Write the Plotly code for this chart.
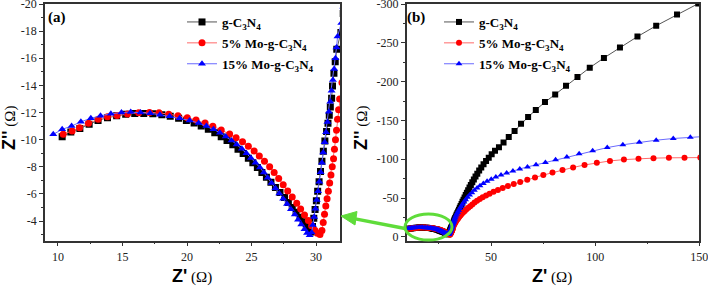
import plotly.graph_objects as go

# ---------------- data (Z' in ohm, Z'' in ohm; Z'' negative) ----------------
series_names = ["g-C<sub>3</sub>N<sub>4</sub>",
                "5% Mo-g-C<sub>3</sub>N<sub>4</sub>",
                "15% Mo-g-C<sub>3</sub>N<sub>4</sub>"]

g_re = [10.33, 11.0, 11.7, 12.42, 13.11, 13.84, 14.55, 15.25, 15.95, 16.65, 17.35, 18.05, 18.7, 19.35,
        19.95, 20.55, 21.1, 21.65, 22.15, 22.65, 23.1, 23.55, 23.95, 24.35, 24.75, 25.1, 25.45, 25.8,
        26.15, 26.5, 26.85, 27.2, 27.55, 27.85, 28.15, 28.45, 28.75, 29.0, 29.25, 29.45, 29.6,
        29.72, 29.82, 29.92, 30.02, 30.12, 30.23, 30.34, 30.45, 30.56, 30.68, 30.81, 30.92, 31.02,
        31.1, 31.2, 31.27, 31.38, 31.48, 31.6,
        31.92, 32.1, 32.3, 32.55, 32.8, 33.1, 33.45, 33.8, 34.2, 34.6, 35.0, 35.4, 35.85, 36.3, 36.8,
        37.3, 37.85, 38.4, 39.0, 39.65, 40.3, 41.0, 41.75, 42.55, 43.4, 44.3, 45.3, 46.4, 47.6, 48.9,
        50.3, 51.9, 53.8, 56.0, 58.5, 61.3, 64.4, 67.8, 71.5, 75.9, 80.8, 86.0, 91.5, 97.4, 104.2,
        111.9, 120.3, 129.3, 139.3, 149.5, 159.8]
g_im = [-10.21, -10.56, -10.83, -11.13, -11.42, -11.62, -11.77, -11.87, -11.92, -11.93, -11.9, -11.83,
        -11.72, -11.58, -11.41, -11.22, -11.0, -10.76, -10.5, -10.22, -9.93, -9.62, -9.3, -8.97,
        -8.63, -8.29, -7.94, -7.58, -7.22, -6.85, -6.48, -6.11, -5.74, -5.37, -5.0, -4.64, -4.28,
        -3.94, -3.62, -3.35, -3.2,
        -3.6, -4.2, -4.85, -5.5, -6.2, -6.9, -7.65, -8.4, -9.15, -9.9, -10.6, -11.2, -11.8,
        -12.4, -13.05, -13.95, -14.9, -15.74, -16.66,
        -17.9, -19.3, -20.9, -22.6, -24.4, -26.3, -28.3, -30.4, -32.6, -34.9, -37.3, -39.8, -42.4,
        -45.1, -47.9, -50.8, -53.8, -56.9, -60.1, -63.4, -66.8, -70.3, -73.9, -77.6, -81.4, -85.3,
        -89.3, -93.4, -97.6, -101.9, -106.3, -110.8, -115.4, -121.5, -128.5, -136.5, -145.6, -154.5,
        -163.5, -173.6, -183.5, -194.5, -206.0, -218.0, -230.5, -244.0, -258.0, -272.0, -286.5,
        -300.5, -314.0]

mo5_re = [10.41, 11.1, 11.68, 12.37, 13.12, 13.84, 14.58, 15.39, 16.26, 17.09, 17.83, 18.58, 19.3,
          20.02, 20.7, 21.4, 22.0, 22.65, 23.3, 23.8, 24.3, 24.75, 25.2, 25.6, 26.0, 26.4, 26.75,
          27.1, 27.45, 27.8, 28.15, 28.5, 28.8, 29.1, 29.4, 29.65, 29.9, 30.1, 30.3,
          30.45, 30.55, 30.65, 30.75, 30.85, 30.95, 31.05, 31.15, 31.25, 31.35, 31.42, 31.5, 31.58,
          31.66, 31.74, 31.82,
          32.0, 32.25, 32.5, 32.8, 33.15, 33.5, 33.9, 34.35, 34.85, 35.4, 36.0, 36.7, 37.4, 38.2,
          39.1, 40.0, 41.0, 42.1, 43.3, 44.6, 46.0, 47.6, 49.3, 51.2, 53.3, 55.6, 58.1, 60.9, 64.0,
          67.4, 71.1, 75.1, 79.5, 84.3, 89.4, 94.9, 100.8, 107.1, 113.8, 120.8, 128.0, 135.4, 142.9,
          150.5]
mo5_im = [-10.39, -10.63, -10.88, -11.2, -11.5, -11.69, -11.78, -11.89, -11.98, -12.0, -11.98, -11.88,
          -11.76, -11.62, -11.45, -11.22, -10.98, -10.72, -10.42, -10.14, -9.84, -9.52, -9.17, -8.8,
          -8.41, -8.0, -7.58, -7.14, -6.68, -6.22, -5.77, -5.32, -4.88, -4.45, -4.03, -3.65, -3.32,
          -3.1, -3.0,
          -3.3, -3.9, -4.5, -5.1, -5.65, -6.2, -6.8, -7.4, -8.0, -8.6, -9.3, -10.0, -10.7, -11.5,
          -12.2, -13.0,
          -14.2, -15.5, -16.8, -18.2, -19.7, -21.2, -22.8, -24.4, -26.1, -27.8, -29.6, -31.5, -33.4,
          -35.4, -37.4, -39.5, -41.8, -44.1, -46.4, -48.7, -51.0, -53.3, -55.6, -58.0, -60.4, -62.9,
          -65.4, -68.0, -70.7, -73.5, -76.5, -79.6, -82.8, -86.0, -89.4, -92.6, -95.5, -97.8, -99.5,
          -100.7, -101.4, -101.8, -102.0, -102.1]

mo15_re = [9.64, 10.33, 11.06, 11.78, 12.55, 13.3, 14.1, 14.92, 15.64, 16.4, 17.15, 17.9, 18.65,
           19.43, 20.2, 20.9, 21.5, 22.05, 22.55, 23.0, 23.45, 23.85, 24.25, 24.6, 24.95, 25.3, 25.65,
           25.95, 26.25, 26.55, 26.85, 27.15, 27.45, 27.75, 28.05, 28.35, 28.6, 28.85, 29.1, 29.3,
           29.5,
           29.65, 29.75, 29.85, 29.95, 30.05, 30.15, 30.25, 30.35, 30.45, 30.55, 30.66, 30.77, 30.88,
           30.99, 31.1, 31.2, 31.3, 31.4, 31.5, 31.58, 31.66,
           31.95, 32.1, 32.3, 32.5, 32.75, 33.1, 33.5, 33.95, 34.45, 35.0, 35.6, 36.3, 37.0, 37.8,
           38.7, 39.7, 40.8, 42.0, 43.3, 44.7, 46.3, 48.1, 50.1, 52.3, 54.8, 57.5, 60.5, 63.8, 67.5,
           71.6, 76.1, 81.0, 86.4, 92.3, 98.8, 105.8, 113.3, 121.2, 129.3, 137.5, 145.7, 153.9]
mo15_im = [-10.39, -10.76, -11.0, -11.32, -11.57, -11.76, -11.9, -12.0, -12.03, -12.0, -11.94, -11.84,
           -11.72, -11.58, -11.42, -11.22, -11.0, -10.76, -10.5, -10.23, -9.94, -9.64, -9.32, -8.99,
           -8.65, -8.3, -7.94, -7.57, -7.19, -6.81, -6.42, -6.03, -5.64, -5.25, -4.86, -4.48, -4.1,
           -3.74, -3.4, -3.12, -2.95,
           -3.15, -3.7, -4.3, -4.9, -5.55, -6.2, -6.9, -7.6, -8.3, -9.05, -9.8, -10.55, -11.3,
           -12.05, -12.8, -13.6, -14.4, -15.2, -16.0, -16.8, -17.6,
           -18.6, -19.8, -21.2, -22.8, -24.6, -26.9, -29.0, -31.3, -33.8, -36.4, -39.1, -42.0, -44.9,
           -47.9, -50.9, -53.9, -56.9, -59.9, -62.9, -65.8, -68.7, -71.5, -74.3, -77.0, -79.7, -82.3,
           -84.9, -87.5, -90.1, -92.8, -95.8, -99.2, -103.0, -107.0, -111.0, -115.0, -118.6, -121.8,
           -124.5, -126.7, -128.3, -129.5]

# tick labels
a_xticks = [10, 15, 20, 25, 30]
a_yticks = [-20, -18, -16, -14, -12, -10, -8, -6, -4]
b_xticks = [50, 100, 150]
b_yticks = [-300, -250, -200, -150, -100, -50, 0]

# ---------------- figure ----------------
W, H = 708, 286
def px(xp):
    return xp / W
def py(yp):
    return 1 - yp / H

colors = ["#000000", "#ff0000", "#0000ff"]
line_colors = ["#555555", "#ff6a6a", "#6a6aff"]
symbols = ["square", "circle", "triangle-up"]
data = [(g_re, g_im), (mo5_re, mo5_im), (mo15_re, mo15_im)]

fig = go.Figure()
for i, (xs, ys) in enumerate(data):
    fig.add_trace(go.Scatter(x=xs, y=ys, mode="lines+markers", name=series_names[i],
                             xaxis="x", yaxis="y", legend="legend", legendgroup="a%d" % i,
                             marker=dict(symbol=symbols[i], size=7, color=colors[i], line=dict(width=0)),
                             line=dict(color=line_colors[i], width=1)))
for i, (xs, ys) in enumerate(data):
    fig.add_trace(go.Scatter(x=xs, y=ys, mode="lines+markers", name=series_names[i],
                             xaxis="x2", yaxis="y2", legend="legend2", legendgroup="b%d" % i,
                             marker=dict(symbol=symbols[i], size=6, color=colors[i], line=dict(width=0)),
                             line=dict(color=line_colors[i], width=1)))

tickfont = dict(family="Liberation Serif", size=12, color="#222")
axcommon = dict(showline=True, linecolor="#333", linewidth=1.5, mirror=True, ticks="outside",
                ticklen=4, tickwidth=1, tickcolor="#333", showgrid=False, zeroline=False,
                tickfont=tickfont, tickmode="array", automargin=False, ticklabeloverflow="allow")

legfont = dict(family="Liberation Serif", size=13, color="#000", weight="bold")
fig.update_layout(
    width=W, height=H, margin=dict(l=0, r=0, t=0, b=0, autoexpand=False),
    plot_bgcolor="white", paper_bgcolor="white", showlegend=True,
    xaxis=dict(domain=[px(45), px(340)], range=[9.0, 31.85], anchor="y",
               tickvals=a_xticks, ticktext=[str(v) for v in a_xticks],
               minor=dict(ticks="outside", ticklen=2, tick0=12.5, dtick=5, tickcolor="#333"), **axcommon),
    yaxis=dict(domain=[py(240.7), py(4)], range=[-2.55, -20], anchor="x",
               tickvals=a_yticks, ticktext=["-" + str(abs(v)) for v in a_yticks],
               minor=dict(ticks="outside", ticklen=2, tick0=-19, dtick=2, tickcolor="#333"), **axcommon),
    xaxis2=dict(domain=[px(406.7), px(699.3)], range=[9.5, 150], anchor="y2",
                tickvals=b_xticks, ticktext=[str(v) for v in b_xticks],
                minor=dict(ticks="outside", ticklen=2, tick0=25, dtick=50, tickcolor="#333"), **axcommon),
    yaxis2=dict(domain=[py(240.7), py(4)], range=[5, -300], anchor="x2",
                tickvals=b_yticks, ticktext=[("-" + str(abs(v))) if v < 0 else "0" for v in b_yticks],
                minor=dict(ticks="outside", ticklen=2, tick0=-275, dtick=50, tickcolor="#333"), **axcommon),
    legend=dict(x=px(182), y=py(7), xanchor="left", yanchor="top", bgcolor="rgba(0,0,0,0)",
                font=legfont, tracegroupgap=1, itemwidth=30),
    legend2=dict(x=px(439), y=py(7), xanchor="left", yanchor="top", bgcolor="rgba(0,0,0,0)",
                 font=legfont, tracegroupgap=1, itemwidth=30),
)

ann_font_b = dict(family="Liberation Serif", size=15, color="#000")
xt = "<b><span style='font-family:Liberation Sans;font-size:18px'>Z'</span></b> (Ω)"
yt = "<b><span style='font-family:Liberation Sans;font-size:18px'>Z''</span></b> (Ω)"
common = dict(showarrow=False, xref="paper", yref="paper", xanchor="center", yanchor="middle")
annotations = [
    dict(x=px(57), y=py(18), text="<b>(a)</b>", font=dict(family="Liberation Serif", size=15, color="#000"), **common),
    dict(x=px(416), y=py(17), text="<b>(b)</b>", font=dict(family="Liberation Serif", size=15, color="#000"), **common),
    dict(x=px(192), y=py(276), text=xt, font=ann_font_b, **common),
    dict(x=px(552), y=py(276), text=xt, font=ann_font_b, **common),
    dict(x=px(9), y=py(128), text=yt, textangle=-90, font=ann_font_b, **common),
    dict(x=px(361), y=py(128), text=yt, textangle=-90, font=ann_font_b, **common),
]
fig.update_layout(annotations=annotations)

# green highlight ellipse and arrow (decoration, paper coordinates)
green = "#5fdc3a"
fig.add_shape(type="circle", xref="paper", yref="paper", x0=px(405), x1=px(452), y0=py(240), y1=py(214),
              line=dict(color=green, width=3))
fig.add_shape(type="line", xref="paper", yref="paper", x0=px(405), y0=py(228.5), x1=px(354), y1=py(218.6),
              line=dict(color=green, width=3.5))
fig.add_shape(type="path", xref="paper", yref="paper",
              path="M %f,%f L %f,%f L %f,%f Z" % (px(341), py(216), px(357), py(211.5), px(355), py(225)),
              fillcolor=green, line=dict(color=green, width=1))

fig.write_html("out.html", config={"displayModeBar": False},
               post_script="document.body.style.margin='0';")
